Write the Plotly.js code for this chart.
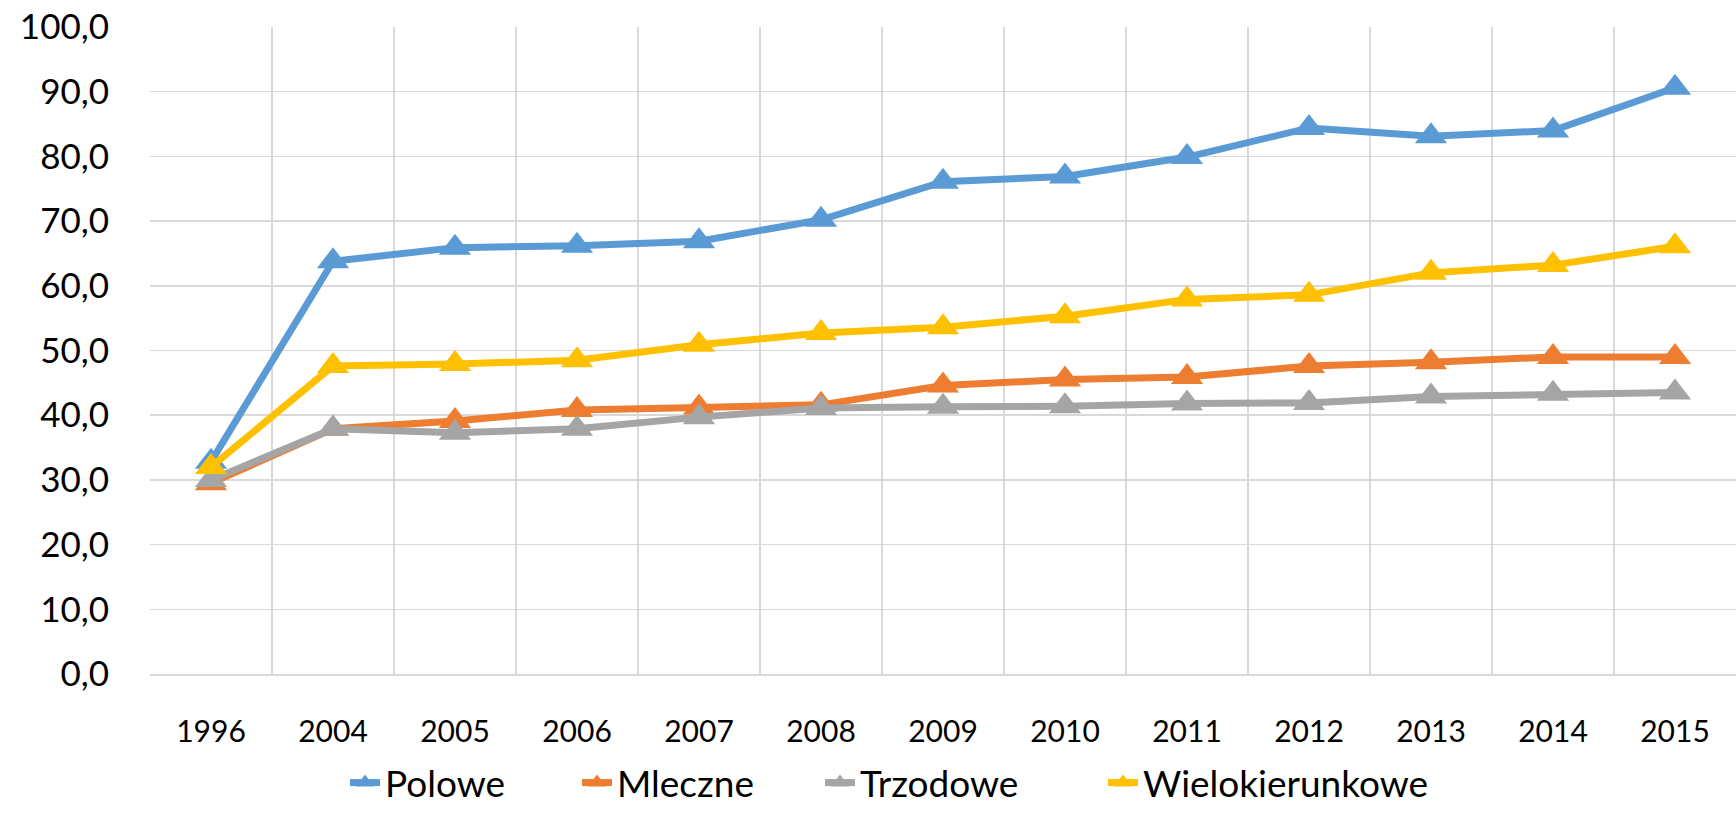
<!DOCTYPE html>
<html>
<head>
<meta charset="utf-8">
<script src="https://cdn.plot.ly/plotly-3.0.1.min.js"></script>
<style>html,body{margin:0;padding:0;background:#fff;}#chart{width:1736px;height:814px;}</style>
</head>
<body>
<div id="chart"></div>
<script>
const years = ['1996','2004','2005','2006','2007','2008','2009','2010','2011','2012','2013','2014','2015'];
const polowe = [32.8, 63.8, 65.9, 66.2, 66.9, 70.2, 76.1, 76.9, 79.9, 84.4, 83.1, 84.0, 90.6];
const mleczne = [29.5, 37.9, 39.1, 40.8, 41.2, 41.6, 44.6, 45.5, 45.9, 47.6, 48.2, 49.0, 49.0];
const trzodowe = [30.0, 37.9, 37.3, 37.9, 39.7, 41.1, 41.3, 41.4, 41.8, 41.9, 42.9, 43.3, 43.5];
const wielokierunkowe = [32.0, 47.6, 47.9, 48.5, 50.9, 52.7, 53.6, 55.3, 57.9, 58.6, 62.0, 63.2, 66.1];
const seriesNames = ['Polowe', 'Mleczne', 'Trzodowe', 'Wielokierunkowe'];
const seriesColors = ['#5B9BD5', '#ED7D31', '#A5A5A5', '#FFC000'];
const yTicks = [0,10,20,30,40,50,60,70,80,90,100];
const yTickText = yTicks.map(v => v.toFixed(1).replace('.', ','));

const seriesData = [polowe, mleczne, trzodowe, wielokierunkowe];
const legendIds = ['legend', 'legend2', 'legend3', 'legend4'];
const legendTextStart = [385, 617, 860, 1143];

const traces = seriesData.map((ys, i) => ({
  type: 'scatter',
  mode: 'lines+markers',
  name: seriesNames[i],
  legend: legendIds[i],
  x: years,
  y: ys,
  line: {color: seriesColors[i], width: 7},
  marker: {symbol: 'triangle-up', size: 28, color: seriesColors[i]},
  cliponaxis: false
}));

const layout = {
  width: 1736,
  height: 814,
  margin: {l: 150, r: 0, t: 27, b: 140},
  paper_bgcolor: '#ffffff',
  plot_bgcolor: '#ffffff',
  font: {family: 'Lato, "Open Sans", sans-serif', color: '#000000'},
  showlegend: true,
  xaxis: {
    type: 'category',
    range: [-0.5, 12.5],
    tickson: 'boundaries',
    showgrid: true,
    gridcolor: '#D9D9D9',
    gridwidth: 1.5,
    showline: true,
    linecolor: '#D9D9D9',
    linewidth: 1.5,
    ticks: '',
    ticklabelstandoff: 30,
    tickfont: {size: 30, family: 'Lato', color: '#000000'},
    fixedrange: true
  },
  yaxis: {
    range: [0, 100],
    tickvals: yTicks,
    ticktext: yTickText,
    showgrid: true,
    gridcolor: '#D9D9D9',
    gridwidth: 1.5,
    zeroline: false,
    showline: false,
    ticks: '',
    ticklabelstandoff: 40,
    tickfont: {size: 35, family: 'Lato', color: '#000000'},
    fixedrange: true
  }
};

legendIds.forEach((id, i) => {
  layout[id] = {
    orientation: 'h',
    x: (legendTextStart[i] - 40) / 1736,
    xref: 'container',
    xanchor: 'left',
    y: 0,
    yref: 'container',
    yanchor: 'bottom',
    font: {size: 37, family: 'Lato', color: '#000000'},
    bgcolor: 'rgba(0,0,0,0)',
    borderwidth: 0
  };
});

Plotly.newPlot('chart', traces, layout, {displayModeBar: false, staticPlot: true});
</script>
</body>
</html>
